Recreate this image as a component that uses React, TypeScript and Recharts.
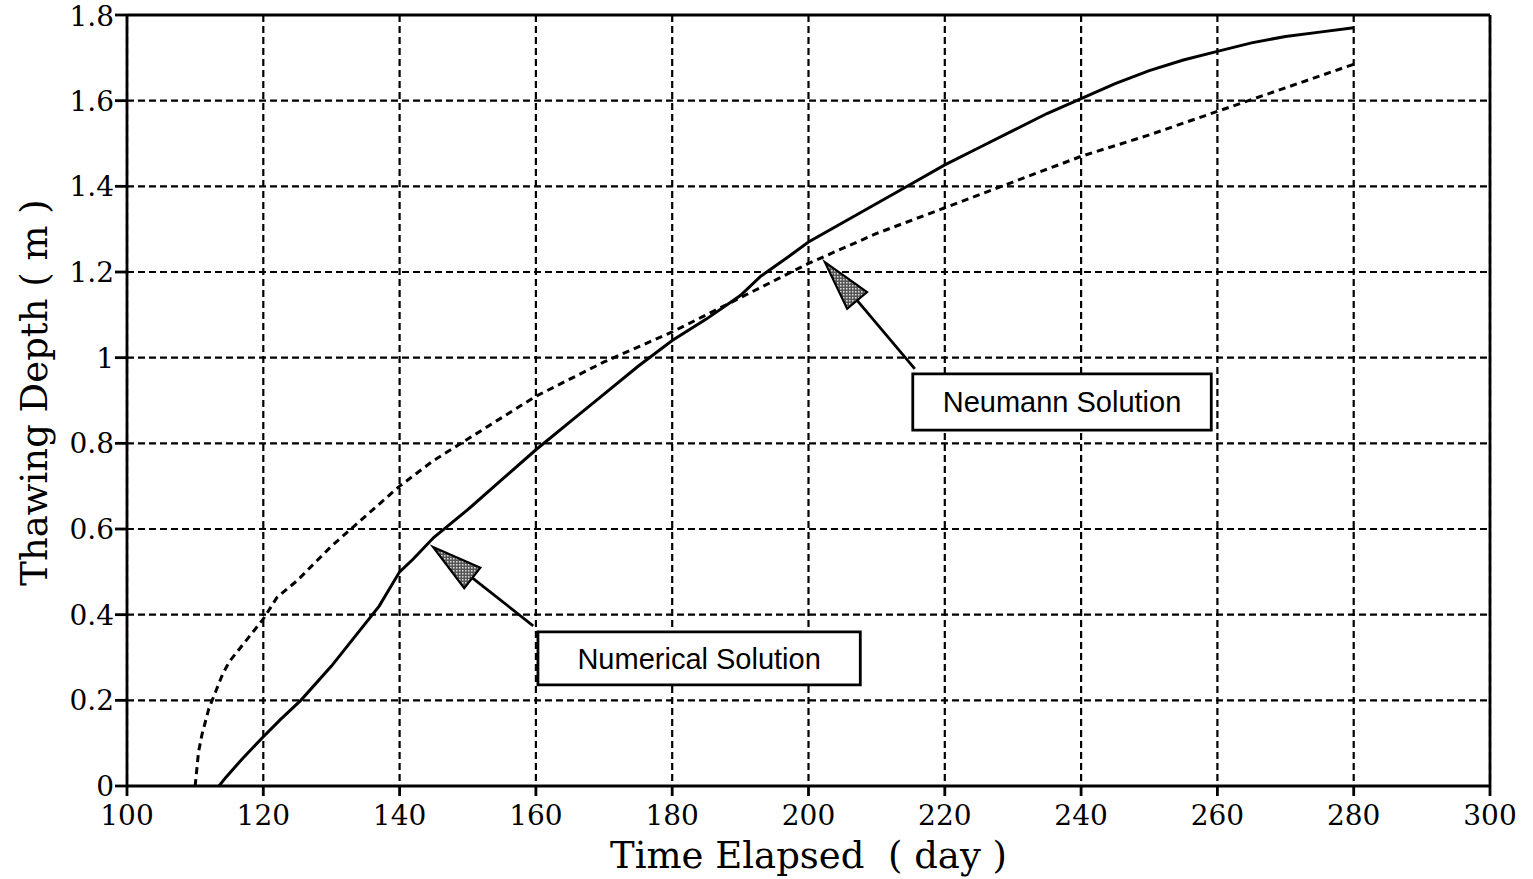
import React from 'react';
import { LineChart, Line, XAxis, YAxis, CartesianGrid, ReferenceLine, ReferenceArea } from 'recharts';

// Time elapsed (day) and thawing depth (m)
const numericalDays = [113.5, 114.5, 117, 120, 122.5, 125.5, 130, 133, 137, 140, 142, 145, 150, 155, 160, 165, 170, 175, 180, 185, 190, 193, 197, 200, 205, 210, 215, 220, 225, 230, 235, 240, 245, 250, 255, 260, 265, 270, 275, 280];
const numericalDepth = [0, 0.02, 0.065, 0.115, 0.155, 0.2, 0.28, 0.34, 0.42, 0.5, 0.53, 0.58, 0.645, 0.715, 0.785, 0.85, 0.915, 0.98, 1.04, 1.09, 1.145, 1.19, 1.235, 1.27, 1.315, 1.36, 1.405, 1.45, 1.49, 1.53, 1.57, 1.605, 1.64, 1.67, 1.695, 1.715, 1.735, 1.75, 1.76, 1.77];

const neumannDays = [110, 110.5, 111, 112, 113, 114, 115, 117, 120, 122, 125, 130, 135, 140, 145, 150, 155, 160, 170, 180, 190, 200, 210, 220, 230, 240, 250, 260, 270, 280];
const neumannDepth = [0, 0.08, 0.12, 0.18, 0.22, 0.26, 0.29, 0.33, 0.39, 0.44, 0.48, 0.56, 0.63, 0.7, 0.76, 0.81, 0.86, 0.91, 0.99, 1.06, 1.14, 1.22, 1.29, 1.35, 1.41, 1.47, 1.52, 1.575, 1.63, 1.685];

const xTicks = [100, 120, 140, 160, 180, 200, 220, 240, 260, 280, 300];
const yTicks = [0, 0.2, 0.4, 0.6, 0.8, 1, 1.2, 1.4, 1.6, 1.8];

const numericalData = numericalDays.map((d, i) => ({ day: d, depth: numericalDepth[i] }));
const neumannData = neumannDays.map((d, i) => ({ day: d, depth: neumannDepth[i] }));

const SERIF = '"DejaVu Serif", serif';
const SANS = '"Liberation Sans", Arial, sans-serif';

const Arrow = (props: any) => {
  const { x1, y1, x2, y2 } = props;
  const dx = x2 - x1;
  const dy = y2 - y1;
  const len = Math.sqrt(dx * dx + dy * dy);
  const ux = dx / len;
  const uy = dy / len;
  const headLen = 50;
  const half = 13;
  const bx = x2 - ux * headLen;
  const by = y2 - uy * headLen;
  const px = -uy;
  const py = ux;
  const pts = `${x2},${y2} ${bx + px * half},${by + py * half} ${bx - px * half},${by - py * half}`;
  return (
    <g>
      <defs>
        <pattern id="stipple" width="3" height="3" patternUnits="userSpaceOnUse">
          <rect width="3" height="3" fill="#555" />
          <rect width="1.5" height="1.5" fill="#ddd" />
        </pattern>
      </defs>
      <line x1={x1} y1={y1} x2={bx} y2={by} stroke="#000" strokeWidth={2.8} />
      <polygon points={pts} fill="url(#stipple)" stroke="#000" strokeWidth={2.2} strokeLinejoin="miter" />
    </g>
  );
};

const XLabel = (props: any) => {
  const vb = props.viewBox;
  return (
    <text x={vb.x + vb.width / 2} y={868} textAnchor="middle" fontFamily={SERIF} fontSize={37} fill="#000">
      Time Elapsed{'\u00a0\u00a0'}( day )
    </text>
  );
};

const YLabel = (props: any) => {
  const vb = props.viewBox;
  const cy = vb.y + vb.height / 2 - 8;
  return (
    <text x={47} y={cy} transform={`rotate(-90, 47, ${cy})`} textAnchor="middle" fontFamily={SERIF} fontSize={37} fill="#000">
      Thawing Depth ( m )
    </text>
  );
};

export default function App() {
  return (
    <div style={{ position: 'absolute', left: 0, top: 0, background: '#fff' }}>
      <LineChart width={1533} height={879} margin={{ top: 15, right: 43, left: 47, bottom: 0 }}>
        <CartesianGrid stroke="#000" strokeWidth={2.2} strokeDasharray="7 4" />
        <XAxis
          type="number"
          dataKey="day"
          domain={[100, 300]}
          ticks={xTicks}
          allowDataOverflow
          height={93}
          tickSize={10}
          tickMargin={9}
          stroke="#000"
          strokeWidth={2.8}
          tick={{ fill: '#000', fontFamily: SERIF, fontSize: 28 }}
          label={<XLabel />}
        />
        <YAxis
          type="number"
          dataKey="depth"
          domain={[0, 1.8]}
          ticks={yTicks}
          allowDataOverflow
          width={80}
          tickSize={12}
          tickMargin={1}
          stroke="#000"
          strokeWidth={2.8}
          tick={{ fill: '#000', fontFamily: SERIF, fontSize: 28 }}
          label={<YLabel />}
        />
        <ReferenceLine y={1.8} stroke="#000" strokeWidth={2.8} />
        <ReferenceLine x={300} stroke="#000" strokeWidth={2.8} />
        <Line
          data={neumannData}
          dataKey="depth"
          type="linear"
          stroke="#000"
          strokeWidth={3}
          strokeDasharray="7 5"
          dot={false}
          isAnimationActive={false}
        />
        <Line
          data={numericalData}
          dataKey="depth"
          type="linear"
          stroke="#000"
          strokeWidth={3}
          dot={false}
          isAnimationActive={false}
        />
        <ReferenceLine
          segment={[{ x: 159.6, y: 0.374 }, { x: 144.9, y: 0.558 }]}
          shape={<Arrow />}
        />
        <ReferenceLine
          segment={[{ x: 215.6, y: 0.974 }, { x: 202.4, y: 1.223 }]}
          shape={<Arrow />}
        />
        <ReferenceArea
          x1={160.3}
          x2={207.6}
          y1={0.236}
          y2={0.36}
          fill="#fff"
          fillOpacity={1}
          stroke="#000"
          strokeWidth={2.8}
          label={{ value: 'Numerical Solution', position: 'center', fontFamily: SANS, fontSize: 29, fill: '#000' }}
        />
        <ReferenceArea
          x1={215.3}
          x2={259.1}
          y1={0.831}
          y2={0.962}
          fill="#fff"
          fillOpacity={1}
          stroke="#000"
          strokeWidth={2.8}
          label={{ value: 'Neumann Solution', position: 'center', fontFamily: SANS, fontSize: 29, fill: '#000' }}
        />
      </LineChart>
    </div>
  );
}
